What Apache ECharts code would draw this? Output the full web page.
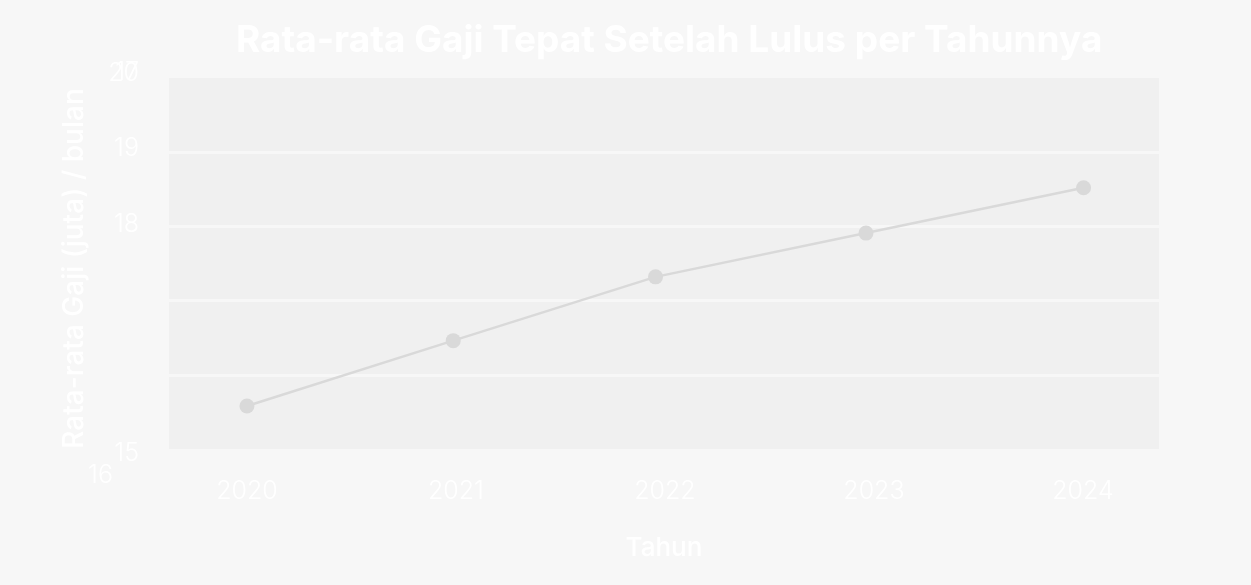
<!DOCTYPE html>
<html>
<head>
<meta charset="utf-8">
<script src="https://cdn.jsdelivr.net/npm/echarts@6/dist/echarts.min.js"></script>
<style>
  html, body { margin: 0; padding: 0; background: #f7f7f7; }
  #chart { width: 1251px; height: 585px; }
</style>
</head>
<body>
<div id="chart"></div>
<script>
// ---- data ----
const yearLabels = [2020, 2021, 2022, 2023, 2024];
const yearPositions = [2020.0, 2020.987, 2021.955, 2022.962, 2024.003];
const salaries = [15.58, 16.46, 17.32, 17.91, 18.52];
const yTicks = [15, 16, 17, 18, 19, 20];
const titleText = 'Rata-rata Gaji Tepat Setelah Lulus per Tahunnya';
const xName = 'Tahun';
const yName = 'Rata-rata Gaji (juta) / bulan';

const FONT = 'Inter, "Noto Sans", sans-serif';
const chart = echarts.init(document.getElementById('chart'), null, { renderer: 'canvas' });

const points = yearPositions.map((x, i) => [x, salaries[i]]);
const labelRich = {
  t20: { padding: [0, 0, 10, 0] },
  t19: { padding: [0, 0, 8, 0] },
  t18: { padding: [0, 0, 4, 0] },
  t15: { padding: [8, 0, 0, 0] }
};

chart.setOption({
  animation: false,
  backgroundColor: '#f7f7f7',
  textStyle: { fontFamily: FONT },
  title: {
    text: titleText,
    left: 231,
    top: 17,
    textStyle: { color: '#ffffff', fontSize: 37, fontWeight: 'bold', fontFamily: FONT }
  },
  grid: {
    left: 169, right: 92, top: 78, bottom: 136,
    show: true, backgroundColor: '#f0f0f0', borderWidth: 0,
    containLabel: false
  },
  xAxis: {
    type: 'value',
    min: 2019.627,
    max: 2024.364,
    axisLine: { show: false },
    axisTick: { show: false },
    splitLine: { show: false },
    axisLabel: {
      customValues: yearLabels,
      formatter: v => String(Math.round(v)),
      color: '#ffffff', fontSize: 25, fontWeight: 300, fontFamily: FONT, margin: 30
    },
    name: xName,
    nameLocation: 'middle',
    nameGap: 86,
    nameTextStyle: { color: '#ffffff', fontSize: 26, fontWeight: 500, fontFamily: FONT }
  },
  yAxis: {
    type: 'value',
    min: yTicks[0],
    max: yTicks[yTicks.length - 1],
    interval: 1,
    axisLine: { show: false },
    axisTick: { show: false },
    splitLine: { show: true, showMinLine: false, showMaxLine: false,
                 lineStyle: { color: '#f7f7f7', width: 3 } },
    axisLabel: {
      formatter: v => (v === 16 || v === 17) ? '' : '{t' + v + '|' + v + '}',
      rich: labelRich,
      color: '#ffffff', fontSize: 25, fontWeight: 300, fontFamily: FONT, margin: 30
    },
    name: yName,
    nameLocation: 'middle',
    nameGap: 80,
    nameTextStyle: { color: '#ffffff', fontSize: 28, fontWeight: 500, fontFamily: FONT,
                     padding: [0, 10, 0, 0] }
  },
  graphic: [
    { type: 'text', right: 1251 - 139, top: 60,
      style: { text: String(yTicks[2]), fill: '#ffffff', font: '300 25px ' + FONT } },
    { type: 'text', right: 1251 - 113, top: 463,
      style: { text: String(yTicks[1]), fill: '#ffffff', font: '300 25px ' + FONT } }
  ],
  series: [{
    type: 'line',
    data: points,
    symbol: 'circle',
    symbolSize: 15,
    lineStyle: { color: '#d9d9d9', width: 2.5 },
    itemStyle: { color: '#d9d9d9' },
    z: 3
  }]
});
</script>
</body>
</html>
